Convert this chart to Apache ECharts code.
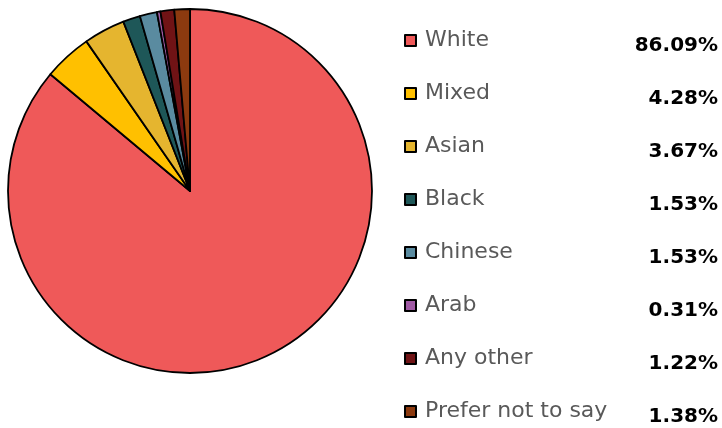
<!DOCTYPE html>
<html>
<head>
<meta charset="UTF-8">
<title>Ethnicity</title>
<script src="https://cdn.jsdelivr.net/npm/echarts@6/dist/echarts.min.js"></script>
<style>
    html, body { margin: 0; padding: 0; background: #fff; }
    #main { width: 722px; height: 428px; }
</style>
</head>
<body>
<div id="main"></div>
<script>
    var categories = ['White', 'Mixed', 'Asian', 'Black', 'Chinese', 'Arab', 'Any other', 'Prefer not to say'];
    var percents = [86.09, 4.28, 3.67, 1.53, 1.53, 0.31, 1.22, 1.38];
    var colors = ['#EF5959', '#FFC000', '#E5B52F', '#1E5758', '#5A8BA0', '#A05AA4', '#701315', '#8C3A0F'];

    var chart = echarts.init(document.getElementById('main'));

    var pieData = categories.map(function (name, i) {
        return { name: name, value: percents[i] };
    });
    var lookup = {};
    categories.forEach(function (c, i) { lookup[c] = percents[i]; });

    var option = {
        animation: false,
        color: colors,
        legend: {
            orient: 'vertical',
            left: 404,
            top: 25,
            height: 500,
            padding: 0,
            itemWidth: 11,
            itemHeight: 11,
            itemGap: 22,
            icon: 'rect',
            selectedMode: false,
            formatter: function (name) {
                return '{n|' + name + '}{v|' + lookup[name].toFixed(2) + '%}';
            },
            textStyle: {
                rich: {
                    n: {
                        width: 210,
                        fontFamily: 'DejaVu Sans',
                        fontSize: 22,
                        color: '#595959',
                        lineHeight: 24,
                        padding: [0, 0, 0, 4]
                    },
                    v: {
                        width: 83,
                        align: 'right',
                        fontFamily: 'DejaVu Sans',
                        fontWeight: 'bold',
                        fontSize: 20,
                        color: '#000',
                        lineHeight: 24,
                        padding: [11, 0, 0, 0]
                    }
                }
            }
        },
        series: [
            {
                type: 'pie',
                center: [190, 191],
                radius: 182,
                startAngle: 90,
                clockwise: true,
                label: { show: false },
                labelLine: { show: false },
                emphasis: { disabled: true },
                itemStyle: {
                    borderColor: '#000',
                    borderWidth: 1.8
                },
                data: pieData
            }
        ]
    };

    chart.setOption(option);
</script>
</body>
</html>
